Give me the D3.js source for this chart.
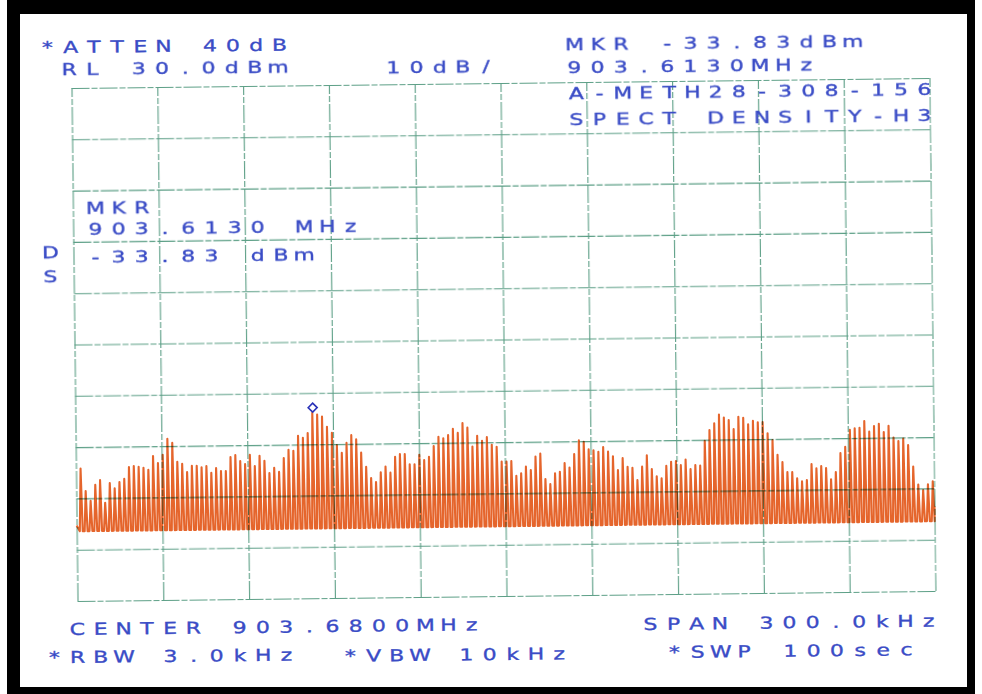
<!DOCTYPE html>
<html>
<head>
<meta charset="utf-8">
<script src="https://cdn.jsdelivr.net/npm/d3@7"></script>
<style>
  html, body { margin: 0; padding: 0; background: #fff; }
  svg { display: block; }
</style>
</head>
<body>
<div class="chart"></div>
<script>
const width = 982;
const height = 694;

// analyzer settings
const refLevel = 30;        // dBm, top of screen
const dbPerDiv = 10;
const divisions = 10;
const centerFreq = 903.68;  // MHz
const spanMHz = 0.3;

// comb lines of the trace: first line and spacing (MHz)
const lineStart = 903.5316;
const lineStep = 0.0016926;

// peak level of each comb line, dBm (left to right)
const peakLevels = [
  -44.2, -48.6, -50.5, -47.4, -46.5, -50.9, -47.1, -48.1, -46.9, -46.3,
  -44.0, -43.8, -44.0, -44.2, -44.6, -41.9, -43.3, -41.7, -38.6, -39.4,
  -43.1, -43.5, -45.1, -43.9, -43.9, -44.2, -44.0, -45.3, -44.4, -45.0,
  -45.0, -42.3, -41.9, -43.1, -43.7, -41.9, -44.1, -42.1, -43.1, -45.5,
  -44.5, -45.3, -42.6, -41.0, -41.2, -38.3, -38.7, -37.8, -33.83, -34.2,
  -34.6, -36.6, -37.8, -40.2, -41.7, -39.8, -38.3, -39.1, -41.7, -44.5,
  -46.7, -47.5, -45.6, -44.5, -45.7, -42.6, -42.1, -42.1, -44.1, -44.1,
  -42.3, -43.3, -42.7, -40.6, -38.8, -39.1, -38.5, -37.3, -38.1, -36.2,
  -37.1, -40.8, -38.7, -39.7, -39.0, -40.5, -40.9, -43.8, -43.8, -43.7,
  -46.6, -46.1, -44.8, -45.5, -42.9, -42.3, -47.3, -48.3, -46.2, -45.9,
  -44.2, -45.1, -42.5, -39.8, -40.1, -41.6, -41.8, -42.1, -41.2, -42.1,
  -43.0, -45.7, -43.4, -45.1, -45.3, -47.7, -45.1, -42.9, -45.6, -47.0,
  -47.4, -45.0, -44.2, -44.1, -44.9, -43.8, -45.7, -44.9, -45.0, -40.2,
  -38.1, -36.8, -35.1, -35.7, -36.2, -38.0, -35.6, -35.8, -37.1, -36.4,
  -36.7, -36.7, -38.9, -40.2, -43.1, -44.5, -46.5, -46.5, -47.7, -48.3,
  -48.1, -45.0, -45.8, -45.4, -45.8, -48.0, -46.6, -42.9, -41.7, -38.4,
  -38.1, -38.0, -36.7, -38.8, -37.7, -37.3, -38.9, -37.7, -40.0, -40.7,
  -40.2, -41.5, -45.7, -49.2, -50.3, -49.2, -48.6
];
const noiseFloor = -56.4;      // dBm between the lines
const traceStartLevel = -55.3;
const traceEndLevel = -53.5;

// marker
const markerFreq = 903.6130;
const markerLevel = -33.83;

// annotation lines
const headerLeft = ['*ATTEN 40dB', 'RL 30.0dBm'];
const scaleLabel = '10dB/';
const headerRight = ['MKR -33.83dBm', '903.6130MHz', 'A-METH28-308-156', 'SPECT DENSITY-H3'];
const markerBox = ['MKR', '903.6130 MHz', '-33.83 dBm'];
const sideLetters = ['D', 'S'];
const footer = ['CENTER 903.6800MHz', '*RBW 3.0kHz', '*VBW 10kHz', 'SPAN 300.0kHz', '*SWP 100sec'];

const svg = d3.select('.chart').append('svg')
    .attr('width', width)
    .attr('height', height)
    .attr('viewBox', `0 0 ${width} ${height}`);

// black frame round the sheet
svg.append('rect')
    .attr('x', 7).attr('y', 0)
    .attr('width', 968).attr('height', height)
    .attr('fill', '#000');
svg.append('rect')
    .attr('x', 20).attr('y', 14)
    .attr('width', 947).attr('height', 673)
    .attr('fill', '#fff');

// the plot sheet sits slightly skewed on the scanner
const sheet = svg.append('g').attr('transform', 'rotate(-0.67, 503.5, 340)');

const plot = { left: 74.5, top: 83, w: 858, h: 513 };

const x = d3.scaleLinear()
    .domain([centerFreq - spanMHz / 2, centerFreq + spanMHz / 2])
    .range([plot.left, plot.left + plot.w]);
const y = d3.scaleLinear()
    .domain([refLevel - dbPerDiv * divisions, refLevel])
    .range([plot.top + plot.h, plot.top]);

/*      Trace: narrow spikes up from the noise floor       */
const tracePts = [[x.domain()[0], traceStartLevel]];
peakLevels.forEach((lvl, i) => {
    const f = lineStart + i * lineStep;
    tracePts.push([f - lineStep * 0.3, noiseFloor]);
    tracePts.push([f, lvl]);
    tracePts.push([f + lineStep * 0.3, noiseFloor]);
});
tracePts.push([x.domain()[1], traceEndLevel]);

const line = d3.line()
    .x(d => x(d[0]))
    .y(d => y(d[1]));

sheet.append('path')
    .datum(tracePts)
    .attr('d', line)
    .attr('fill', 'none')
    .attr('stroke', '#e5652c')
    .attr('stroke-width', 2.1)
    .attr('stroke-linejoin', 'round');

/*      Graticule       */
const xTicks = d3.range(divisions + 1).map(i => x.domain()[0] + i * spanMHz / divisions);
const yTicks = d3.range(divisions + 1).map(i => refLevel - i * dbPerDiv);

const grid = sheet.append('g')
    .attr('class', 'grid')
    .style('mix-blend-mode', 'multiply');

grid.append('g')
    .attr('transform', `translate(0, ${plot.top + plot.h})`)
    .call(d3.axisBottom(x).tickValues(xTicks).tickSize(-plot.h).tickFormat(''))
    .call(g => g.select('.domain').remove());
grid.append('g')
    .attr('transform', `translate(${plot.left}, 0)`)
    .call(d3.axisLeft(y).tickValues(yTicks).tickSize(-plot.w).tickFormat(''))
    .call(g => g.select('.domain').remove());

grid.selectAll('.tick line')
    .attr('stroke', '#5c9f86')
    .attr('stroke-width', 1.1)
    .attr('stroke-dasharray', '18 2 6 2');

/*      Marker      */
const mx = x(markerFreq), my = y(markerLevel) - 5;
sheet.append('path')
    .attr('d', `M${mx},${my - 4.5}L${mx + 4.5},${my}L${mx},${my + 4.5}L${mx - 4.5},${my}Z`)
    .attr('fill', 'none')
    .attr('stroke', '#2a32b8')
    .attr('stroke-width', 1.6);

/*      Text, plotter style: fixed pitch, wide glyphs      */
const pitch = 23.2;
const stretch = 1.33;
const labels = [
    { t: headerLeft[0], x: 43.4, y: 48 },
    { t: headerLeft[1], x: 65, y: 70.5 },
    { t: scaleLabel, x: 389, y: 72 },
    { t: headerRight[0], x: 570.4, y: 50.7 },
    { t: headerRight[1], x: 570.1, y: 73.7 },
    { t: headerRight[2], x: 571.8, y: 99.8 },
    { t: headerRight[3], x: 571.5, y: 125.8 },
    { t: markerBox[0], x: 89.5, y: 209 },
    { t: markerBox[1], x: 89.2, y: 230.5 },
    { t: markerBox[2], x: 88.9, y: 258 },
    { t: sideLetters[0], x: 44, y: 252.6 },
    { t: sideLetters[1], x: 43.7, y: 276.6 },
    { t: footer[0], x: 66.5, y: 630 },
    { t: footer[1], x: 43.2, y: 658 },
    { t: footer[2], x: 339.2, y: 660 },
    { t: footer[3], x: 639.5, y: 631.6 },
    { t: footer[4], x: 663.3, y: 660 }
];

sheet.append('g')
    .attr('class', 'labels')
    .selectAll('text')
    .data(labels)
    .enter()
    .append('text')
    .attr('transform', `scale(${stretch}, 1)`)
    .attr('x', d => d.t.split('').map((c, i) => ((d.x + 7.5 + i * pitch) / stretch).toFixed(2)).join(' '))
    .attr('y', d => d.y)
    .attr('text-anchor', 'middle')
    .attr('font-family', '"DejaVu Sans", sans-serif')
    .attr('font-size', 16.5)
    .attr('fill', '#3a4cc6')
    .attr('stroke', '#3a4cc6')
    .attr('stroke-width', 0.35)
    .text(d => d.t);
</script>
</body>
</html>
